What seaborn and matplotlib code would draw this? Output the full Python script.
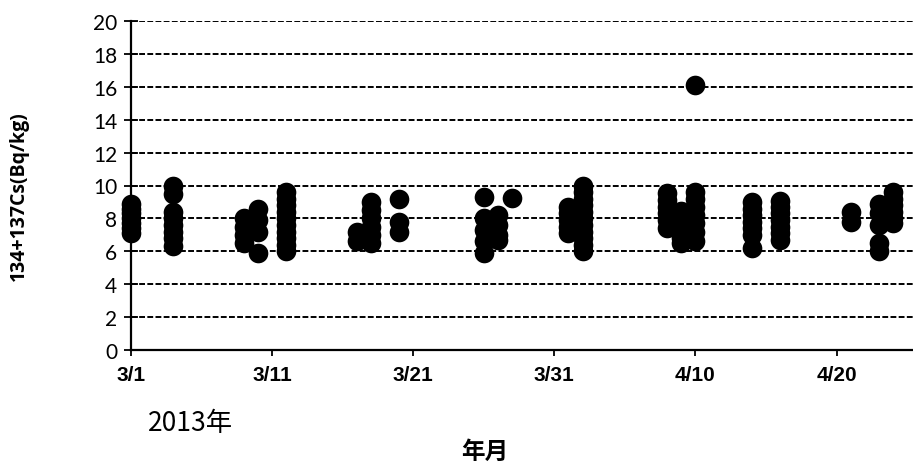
import matplotlib
matplotlib.use("Agg")
import matplotlib.pyplot as plt
import seaborn as sns
import pandas as pd

# ---- data ----
dates = (
    ["2013-03-01"] * 7 +
    ["2013-03-04"] * 8 +
    ["2013-03-09"] * 4 +
    ["2013-03-10"] * 4 +
    ["2013-03-12"] * 10 +
    ["2013-03-17"] * 2 +
    ["2013-03-18"] * 6 +
    ["2013-03-20"] * 3 +
    ["2013-03-26"] * 5 +
    ["2013-03-27"] * 4 +
    ["2013-03-28"] * 1 +
    ["2013-04-01"] * 5 +
    ["2013-04-02"] * 11 +
    ["2013-04-08"] * 6 +
    ["2013-04-09"] * 6 +
    ["2013-04-10"] * 8 +
    ["2013-04-14"] * 7 +
    ["2013-04-16"] * 7 +
    ["2013-04-21"] * 2 +
    ["2013-04-23"] * 5 +
    ["2013-04-24"] * 6
)
values = [
    7.1, 7.4, 7.7, 8.0, 8.3, 8.6, 8.9,
    10.0, 9.5, 8.4, 8.0, 7.6, 7.2, 6.8, 6.3,
    8.0, 7.5, 7.0, 6.5,
    8.6, 7.9, 7.2, 5.9,
    9.6, 9.2, 8.8, 8.4, 8.0, 7.6, 7.2, 6.8, 6.4, 6.0,
    7.2, 6.6,
    9.0, 8.5, 8.0, 7.5, 7.0, 6.5,
    9.2, 7.8, 7.2,
    9.3, 8.0, 7.3, 6.6, 5.9,
    8.2, 7.6, 7.0, 6.7,
    9.25,
    8.7, 8.3, 7.9, 7.5, 7.1,
    10.0, 9.6, 9.2, 8.8, 8.4, 8.0, 7.6, 7.2, 6.8, 6.4, 6.0,
    9.55, 9.1, 8.7, 8.3, 7.9, 7.4,
    8.45, 8.0, 7.6, 7.2, 6.8, 6.5,
    16.1, 9.6, 9.2, 8.7, 8.2, 7.7, 7.2, 6.6,
    9.0, 8.6, 8.2, 7.8, 7.4, 7.0, 6.2,
    9.05, 8.7, 8.3, 7.9, 7.5, 7.1, 6.7,
    8.4, 7.8,
    8.9, 8.3, 7.6, 6.5, 6.0,
    9.6, 9.2, 8.8, 8.4, 8.0, 7.7,
]
x_tick_dates = ["2013-03-01", "2013-03-11", "2013-03-21", "2013-03-31",
                "2013-04-10", "2013-04-20"]
x_tick_labels = ["3/1", "3/11", "3/21", "3/31", "4/10", "4/20"]
y_ticks = [0, 2, 4, 6, 8, 10, 12, 14, 16, 18, 20]

df = pd.DataFrame({"date": pd.to_datetime(dates), "cs": values})

sns.set_theme(style="white")
plt.rcParams["font.family"] = ["Lato", "Noto Sans CJK JP", "DejaVu Sans"]
plt.rcParams["text.color"] = "black"
plt.rcParams["axes.labelcolor"] = "black"

fig = plt.figure(figsize=(9.13, 4.64), dpi=100)
ax = fig.add_axes([131 / 913, 1 - 351 / 464, 1 - 131 / 913, (351 - 22) / 464])

sns.scatterplot(data=df, x="date", y="cs", ax=ax, color="black",
                edgecolor="black", linewidth=0, s=200, clip_on=False,
                legend=False, zorder=3)

ax.set_ylim(0, 20)
ax.set_xlim(pd.Timestamp("2013-03-01"), pd.Timestamp("2013-04-25 10:00"))
ax.set_yticks(y_ticks)
ax.set_yticklabels([str(v) for v in y_ticks], fontsize=15, color="black")
ax.set_xticks(pd.to_datetime(x_tick_dates))
ax.set_xticklabels(x_tick_labels, fontsize=15, fontweight="bold",
                   family=["Liberation Sans"], color="black")

for v in y_ticks[1:]:
    ax.axhline(v, color="black", lw=1.4, ls=(0, (3, 1.2)), zorder=1)

for side in ["top", "right"]:
    ax.spines[side].set_visible(False)
for side in ["left", "bottom"]:
    ax.spines[side].set_color("black")
    ax.spines[side].set_linewidth(1.6)

ax.tick_params(axis="y", direction="inout", length=10, width=1.3,
               colors="black", pad=5, left=True)
ax.tick_params(axis="x", direction="out", length=4, width=1.3,
               colors="black", pad=7, bottom=True)

ax.set_xlabel("")
ax.set_ylabel("134+137Cs(Bq/kg)", fontsize=14, fontweight="bold",
              family=["Open Sans", "DejaVu Sans"], color="black")
ax.yaxis.set_label_coords(-0.13, 0.47)

fig.text(148 / 913, 1 - 431 / 464, "2013年", fontsize=19, color="black",
         family=["Noto Sans CJK JP"], ha="left", va="baseline")
fig.text(485 / 913, 1 - 459 / 464, "年月", fontsize=17, fontweight="bold",
         color="black", family=["Noto Sans CJK JP"], ha="center",
         va="baseline")

fig.savefig("out.png", dpi=100)
